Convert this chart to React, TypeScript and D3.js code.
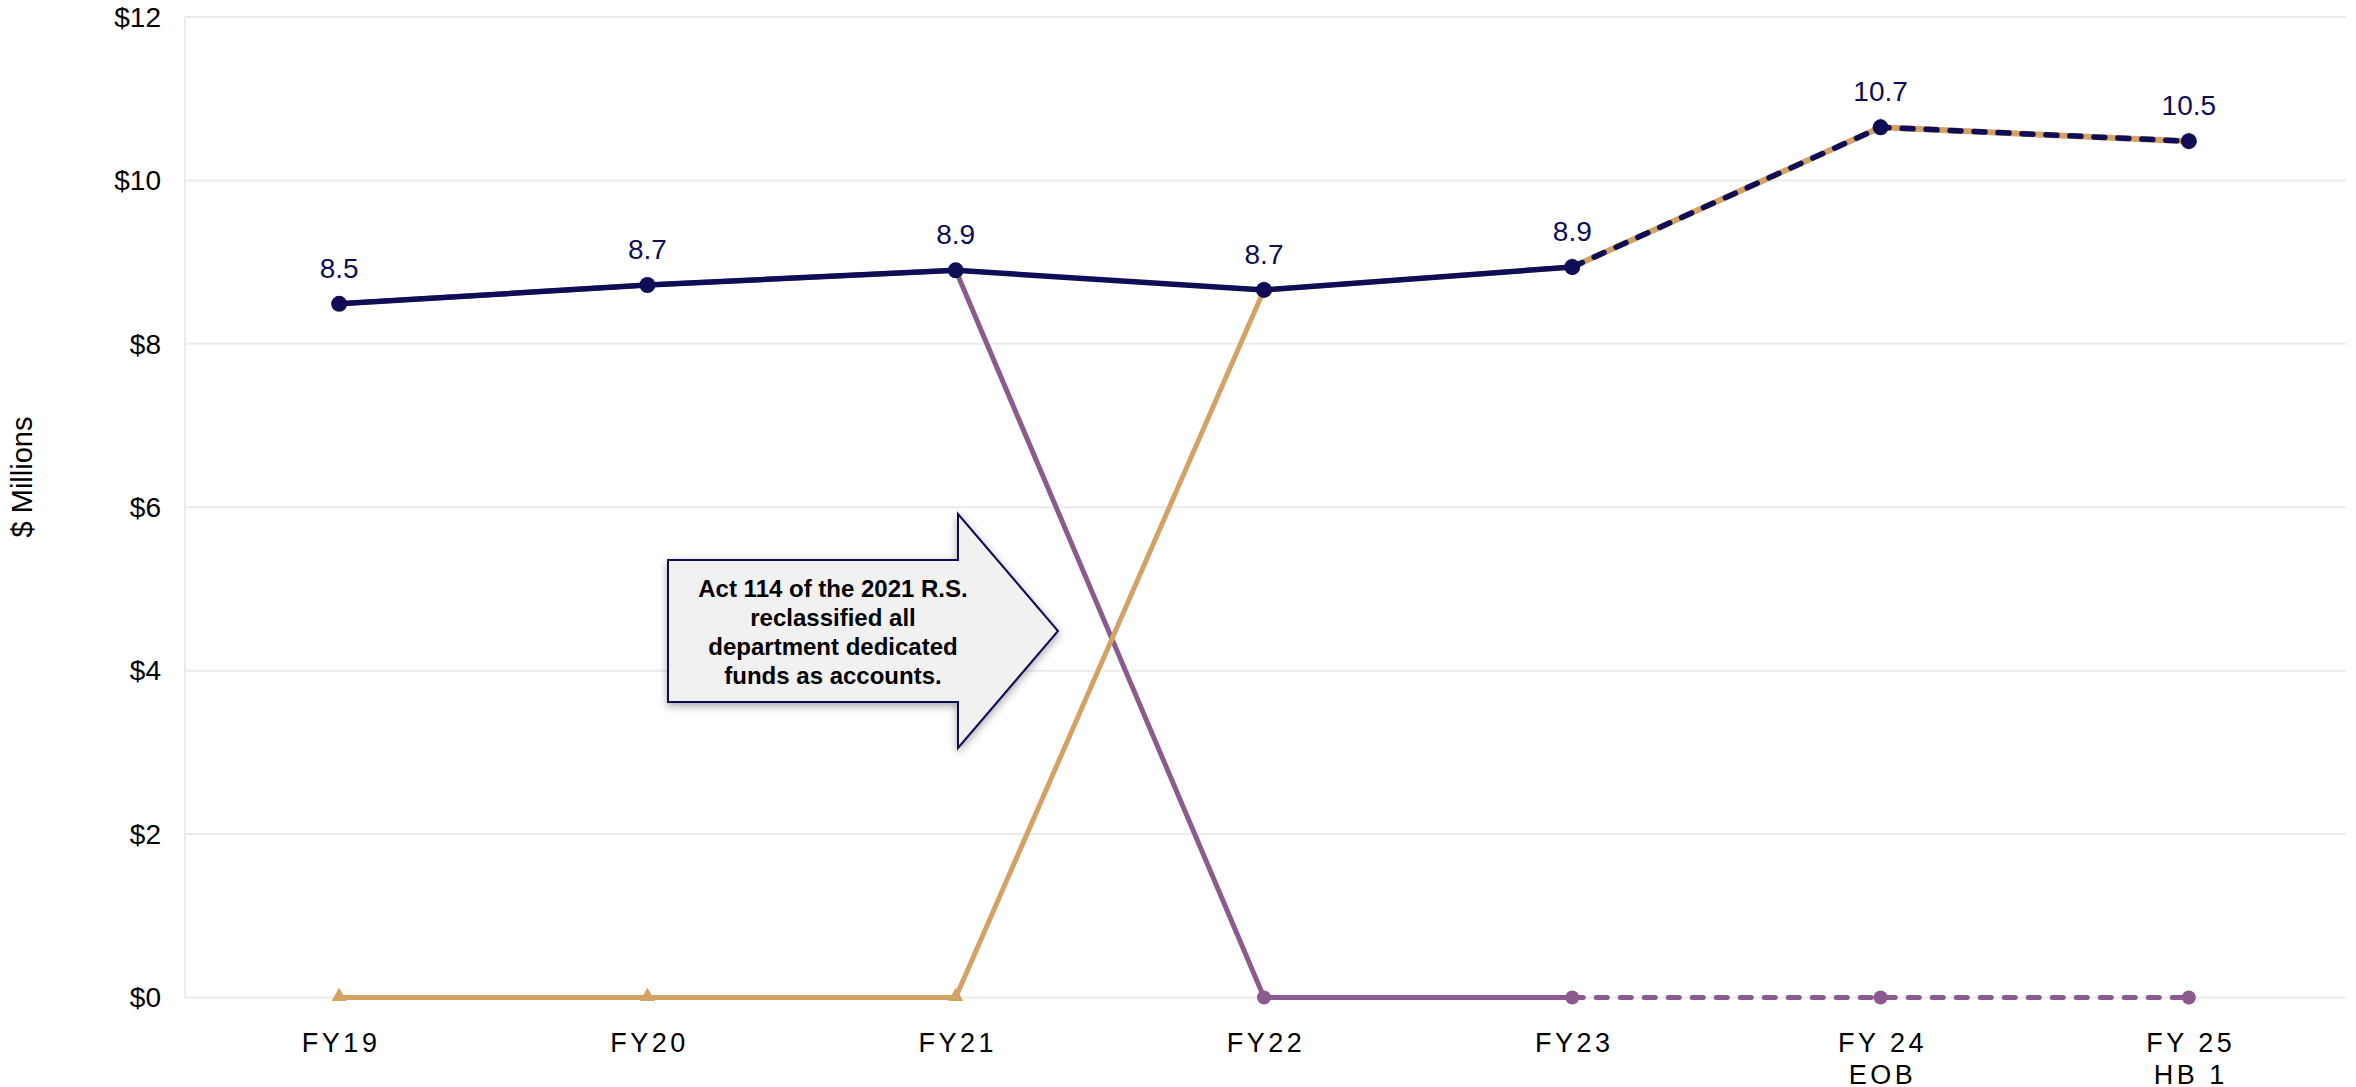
import React from "react";
import * as d3 from "d3";

const categories = ["FY19", "FY20", "FY21", "FY22", "FY23", "FY 24|EOB", "FY 25|HB 1"];
const totalValues = [8.49, 8.72, 8.9, 8.66, 8.94, 10.65, 10.48];
const dedicatedFundValues = [8.49, 8.72, 8.9, 0, 0, 0, 0];
const accountValues = [0, 0, 0, 8.66, 8.94, 10.65, 10.48];
const totalLabels = ["8.5", "8.7", "8.9", "8.7", "8.9", "10.7", "10.5"];
const yTicks = [0, 2, 4, 6, 8, 10, 12];
const projectionStart = 4;
const calloutLines = [
  "Act 114 of the 2021 R.S.",
  "reclassified all",
  "department dedicated",
  "funds as accounts.",
];

const W = 2356;
const H = 1087;
const FONT = "'Liberation Sans', Arial, Helvetica, sans-serif";
const NAVY = "#0e0d55";
const PURPLE = "#8c5b8e";
const TAN = "#d3a264";
const GRID = "#ebebeb";

export default function App() {
  const x = d3.scalePoint<string>().domain(categories).range([185, 2343]).padding(0.5);
  const y = d3.scaleLinear().domain([0, 12]).range([997.5, 17]);

  const pts = (vals: number[]) => vals.map((v, i) => [x(categories[i]) as number, y(v)] as [number, number]);
  const line = d3.line<[number, number]>();

  const seg = (vals: number[]) => {
    const p = pts(vals);
    return {
      solid: line(p.slice(0, projectionStart + 1)) as string,
      dashed: line(p.slice(projectionStart)) as string,
      p,
    };
  };

  const purple = seg(dedicatedFundValues);
  const tan = seg(accountValues);
  const navy = seg(totalValues);
  const tri = d3.symbol().type(d3.symbolTriangle).size(100)() as string;

  return (
    <svg
      width={W}
      height={H}
      style={{ position: "absolute", left: 0, top: 0, background: "#fff" }}
      fontFamily={FONT}
    >
      <defs>
        <filter id="shadow" x="-20%" y="-20%" width="140%" height="150%">
          <feDropShadow dx="0" dy="3" stdDeviation="4" floodColor="#000" floodOpacity="0.35" />
        </filter>
      </defs>
      {/* grid */}
      {yTicks.map((t) => (
        <line key={t} x1={185} x2={2346} y1={y(t)} y2={y(t)} stroke={GRID} strokeWidth={2} />
      ))}
      <line x1={185} x2={185} y1={y(12)} y2={y(0)} stroke={GRID} strokeWidth={2} />
      {/* y ticks */}
      {yTicks.map((t) => (
        <text key={t} x={161} y={y(t)} dy="0.35em" textAnchor="end" fontSize={28} fill="#000">
          {"$" + t}
        </text>
      ))}
      <text
        transform={`translate(24,477) rotate(-90)`}
        textAnchor="middle"
        dominantBaseline="middle"
        fontSize={29}
        fill="#000"
      >
        $ Millions
      </text>
      {/* x labels */}
      {categories.map((c) => {
        const parts = c.split("|");
        return (
          <text key={c} x={(x(c) as number) + 2} y={1052} textAnchor="middle" fontSize={27} letterSpacing={3.5} fill="#000">
            {parts.map((p, i) => (
              <tspan key={i} x={(x(c) as number) + 2} dy={i === 0 ? 0 : 32}>
                {p}
              </tspan>
            ))}
          </text>
        );
      })}

      {/* callout */}
      <g filter="url(#shadow)">
        <polygon
          points="668,560 958,560 958,514 1058,631 958,748 958,702 668,702"
          fill="#f1f1f1"
          stroke={NAVY}
          strokeWidth={2}
          strokeLinejoin="miter"
        />
      </g>
      {calloutLines.map((l, i) => (
        <text key={i} x={833} y={597 + i * 29} textAnchor="middle" fontSize={24} fontWeight="bold" fill="#000">
          {l}
        </text>
      ))}

      {/* purple series */}
      <path d={purple.solid} fill="none" stroke={PURPLE} strokeWidth={5} strokeLinejoin="round" />
      <path d={purple.dashed} fill="none" stroke={PURPLE} strokeWidth={5} strokeDasharray="11 13" strokeLinecap="round" />
      {purple.p.map(([px, py], i) => (
        <circle key={i} cx={px} cy={py} r={7} fill={PURPLE} />
      ))}

      {/* tan series */}
      <path d={tan.solid} fill="none" stroke={TAN} strokeWidth={5} strokeLinejoin="round" />
      <path d={tan.dashed} fill="none" stroke={TAN} strokeWidth={6} />
      {tan.p.map(([px, py], i) => (
        <path key={i} d={tri} transform={`translate(${px},${py - 1})`} fill={TAN} />
      ))}

      {/* navy total */}
      <path d={navy.solid} fill="none" stroke={NAVY} strokeWidth={5.5} strokeLinejoin="round" />
      <path d={navy.dashed} fill="none" stroke={NAVY} strokeWidth={5.5} strokeDasharray="11 13" strokeLinecap="round" />
      {navy.p.map(([px, py], i) => (
        <circle key={i} cx={px} cy={py} r={8} fill={NAVY} />
      ))}
      {navy.p.map(([px, py], i) => (
        <text key={i} x={px} y={py - 26} textAnchor="middle" fontSize={28} fill={NAVY}>
          {totalLabels[i]}
        </text>
      ))}
    </svg>
  );
}
